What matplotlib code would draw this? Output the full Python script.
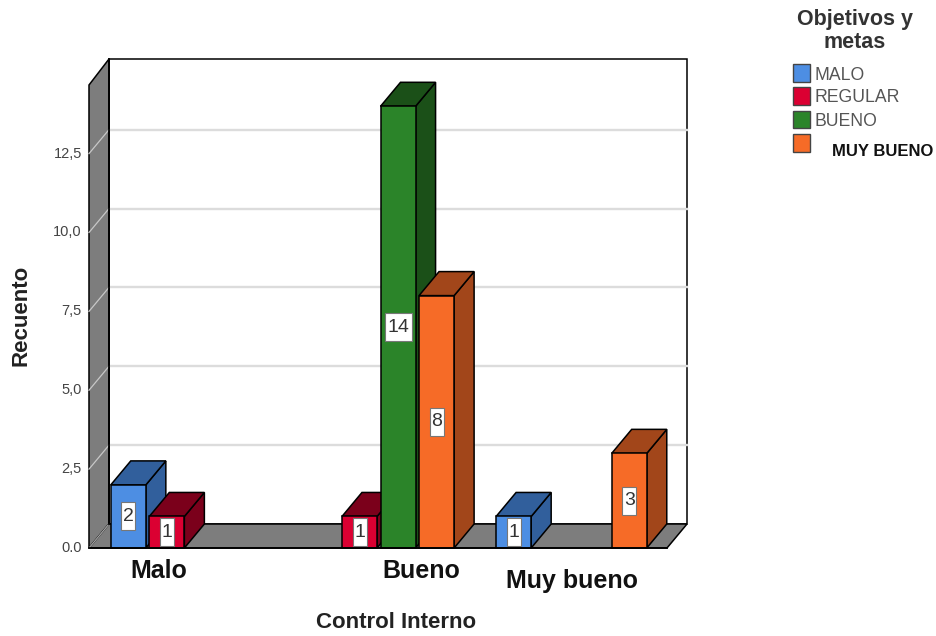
import matplotlib
matplotlib.use("Agg")
import matplotlib.pyplot as plt
from matplotlib.patches import Polygon, Rectangle

plt.rcParams["font.family"] = ["Liberation Sans", "DejaVu Sans"]

categories = ["Malo", "Bueno", "Muy bueno"]
series = ["MALO", "REGULAR", "BUENO", "MUY BUENO"]
malo = [2, 0, 1]
regular = [1, 1, 0]
bueno = [0, 14, 0]
muy_bueno = [0, 8, 3]
y_ticks = [0, 2.5, 5, 7.5, 10, 12.5]
y_tick_labels = ["0.0", "2,5", "5,0", "7,5", "10,0", "12,5"]

front = ["#4d8ee3", "#db0032", "#2b8429", "#f66b27"]
dark = ["#315f9c", "#7b001b", "#1b5018", "#a2461a"]

W, H = 936, 636
fig = plt.figure(figsize=(W / 100, H / 100), dpi=100)

# front plane of the 3d box, in pixels: x 89-667, y 548-85
ax = fig.add_axes([89 / W, 1 - 548 / H, 578 / W, 463 / H])
ax.set_xlim(0, 3)
ax.set_ylim(0, 463 / 31.55)
ax.axis("off")
ax.patch.set_visible(False)

# depth of the box and of the bars, in data units
px_x = 3 / 578
px_y = 1 / 31.55
dx = 20 * px_x
dy = 24 * px_y
ymax = 463 * px_y
wall_top = 489 * px_y  # top edge of the back wall
slot = 0.2
bar_w = 0.182
pad = 0.113


def poly(pts, fc, ec="black", lw=1.1, z=1):
    ax.add_patch(Polygon(pts, closed=True, fc=fc, ec=ec, lw=lw, zorder=z,
                         clip_on=False, joinstyle="miter"))


# walls
poly([(dx, dy), (3 + dx, dy), (3 + dx, wall_top), (dx, wall_top)], "white", z=1)
poly([(0, 0), (dx, dy), (dx, wall_top), (0, ymax)], "#7d7d7d", z=2)
poly([(0, 0), (3, 0), (3 + dx, dy), (dx, dy)], "#7d7d7d", z=2)

for t in y_ticks[1:]:
    ax.plot([dx, 3 + dx], [t + dy, t + dy], color="#dcdcdc", lw=1.7, zorder=1.5, clip_on=False)
    ax.plot([0, dx], [t, t + dy], color="#c8c8c8", lw=0.9, zorder=2.5, clip_on=False)
ax.plot([0, dx], [0, dy], color="#a5a5a5", lw=0.9, zorder=2.5, clip_on=False)
ax.plot([dx, dx], [dy, wall_top], color="black", lw=1.3, zorder=3, clip_on=False)

# bars, left to right so the nearer ones cover the side of the previous
z = 4
for g in range(len(categories)):
    for s, values in enumerate([malo, regular, bueno, muy_bueno]):
        v = values[g]
        if v == 0:
            continue
        x0 = g + pad + s * slot
        x1 = x0 + bar_w
        xc = (x0 + x1) / 2
        poly([(x1, 0), (x1 + dx, dy), (x1 + dx, v + dy), (x1, v)], dark[s], z=z)
        poly([(x0, v), (x1, v), (x1 + dx, v + dy), (x0 + dx, v + dy)], dark[s], z=z)
        poly([(x0, 0), (x1, 0), (x1, v), (x0, v)], front[s], z=z)
        # label box is tall and narrow, wider for two digits
        bw = (27 if v > 9 else 14) * px_x
        bh = 28 * px_y
        ax.add_patch(Rectangle((xc - bw / 2, v / 2 - bh / 2), bw, bh, fc="white", ec="#777777",
                               lw=0.8, zorder=z + 0.4, clip_on=False))
        ax.text(xc, v / 2, str(v), ha="center", va="center", fontsize=14,
                color="#333333", zorder=z + 0.5)
        z += 1

ax.plot([0, 3], [0, 0], color="black", lw=1.3, zorder=z, clip_on=False)

# y tick labels
for t, lab in zip(y_ticks, y_tick_labels):
    ax.text(-7 * px_x, t, lab, ha="right", va="center", fontsize=10.5, color="#444444")

# category labels sit at uneven positions in the original
cat_pos = [(159, 571), (421, 571), (572, 581)]
for lab, (px, py) in zip(categories, cat_pos):
    fig.text(px / W, 1 - py / H, lab, ha="center", va="center", fontsize=18,
             fontweight="bold", color="#111111")

fig.text(396 / W, 1 - 623 / H, "Control Interno", ha="center", va="center", fontsize=16,
         fontweight="bold", color="#222222")
fig.text(21 / W, 1 - 315 / H, "Recuento", rotation=90, ha="center", va="center", fontsize=16,
         fontweight="bold", color="#222222")

# legend
fig.text(855 / W, 1 - 19 / H, "Objetivos y", ha="center", va="center", fontsize=15.5,
         fontweight="bold", color="#333333")
fig.text(855 / W, 1 - 42 / H, "metas", ha="center", va="center", fontsize=15.5,
         fontweight="bold", color="#333333")
leg_y = [73, 96, 119.5, 143]
text_pos = [(814, 75), (814, 98), (814, 121), (832, 151)]
for s, name in enumerate(series):
    fig.add_artist(Rectangle((793 / W, 1 - (leg_y[s] + 8.5) / H), 17 / W, 17 / H,
                             transform=fig.transFigure, fc=front[s], ec="#444444", lw=1))
    bold = name == "MUY BUENO"
    fig.text(text_pos[s][0] / W, 1 - text_pos[s][1] / H, name, ha="left", va="center",
             fontsize=12 if bold else 12.7, fontweight="bold" if bold else "normal",
             color="#111111" if bold else "#555555")

fig.savefig("out.png", dpi=100)
